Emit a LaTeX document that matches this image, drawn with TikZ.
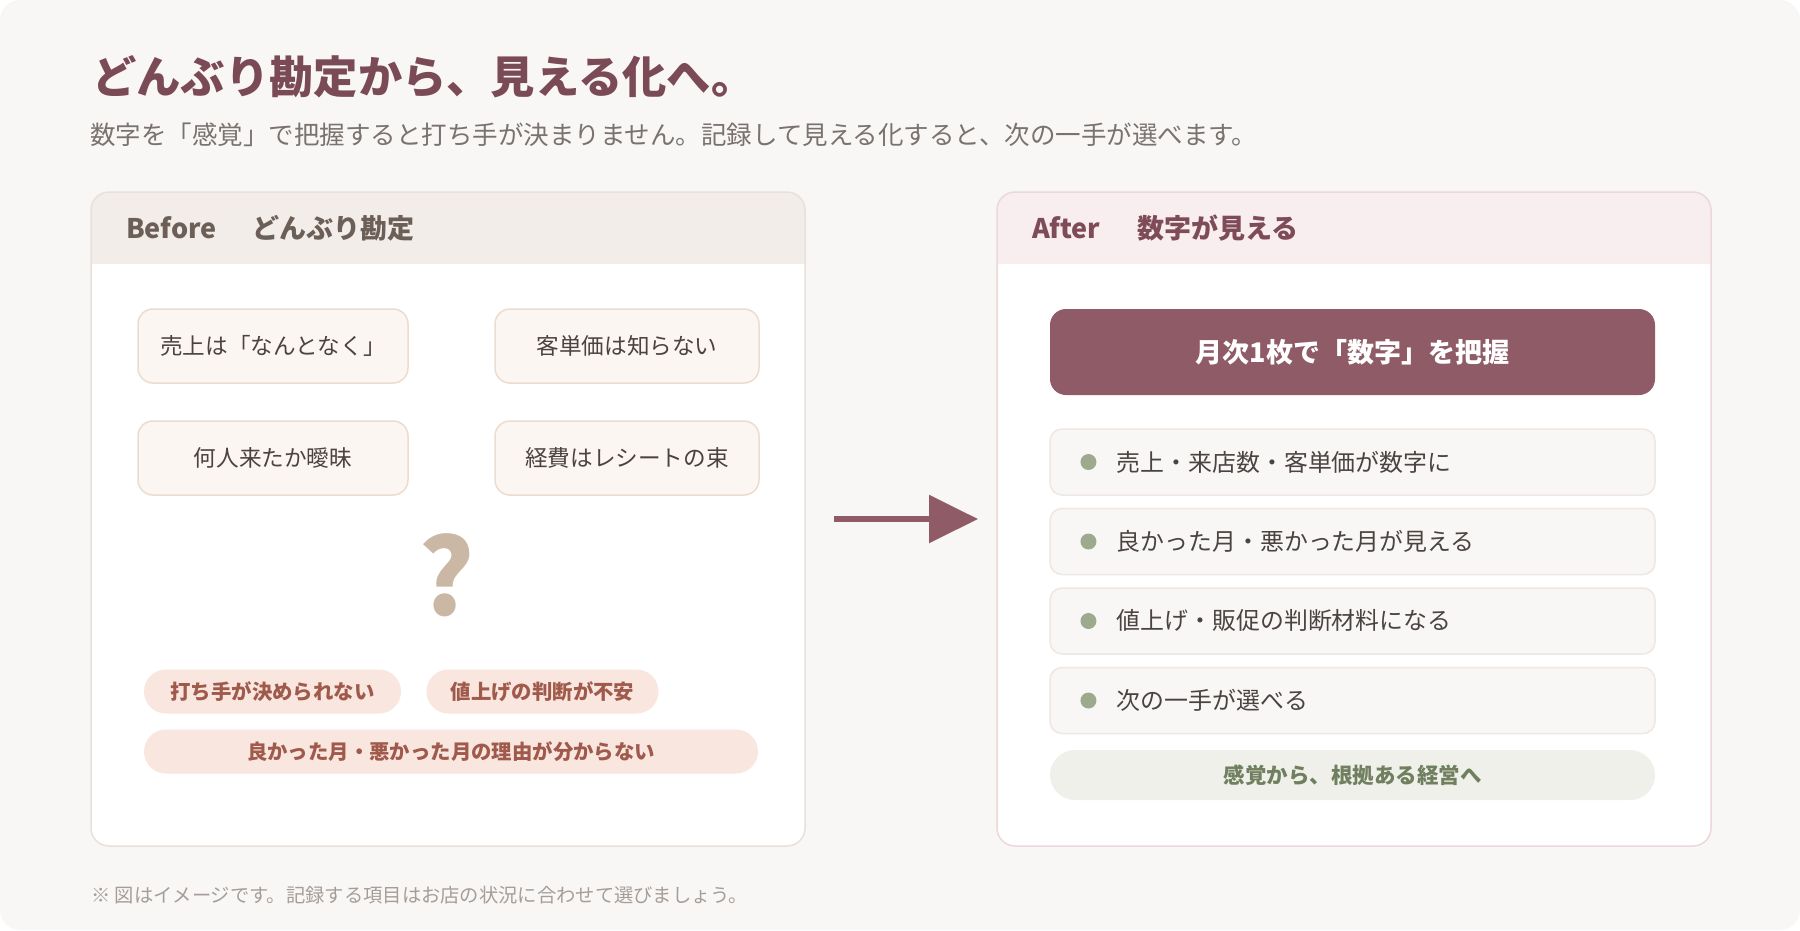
\documentclass[tikz,border=0pt]{standalone}
\usepackage{fontspec}
\setmainfont{Noto Sans CJK JP}
\usepackage{xcolor}
\usetikzlibrary{arrows.meta,positioning}

\definecolor{bgc}{HTML}{F9F7F5}
\definecolor{titlec}{HTML}{7B4A57}
\definecolor{subc}{HTML}{7A726E}
\definecolor{beforehd}{HTML}{F2EDE9}
\definecolor{beforeline}{HTML}{E8E1DB}
\definecolor{beforetxt}{HTML}{6B5F58}
\definecolor{afterhd}{HTML}{F8EDEF}
\definecolor{afterline}{HTML}{ECD7DB}
\definecolor{aftertxt}{HTML}{7E4B58}
\definecolor{cardfill}{HTML}{FBF6F2}
\definecolor{cardline}{HTML}{EBDCCF}
\definecolor{ink}{HTML}{4A4341}
\definecolor{qmark}{HTML}{CBB8A4}
\definecolor{tagfill}{HTML}{F8E6DF}
\definecolor{tagtext}{HTML}{A05A4C}
\definecolor{plum}{HTML}{8E5B67}
\definecolor{itemfill}{HTML}{F9F7F5}
\definecolor{itemline}{HTML}{EEE7E3}
\definecolor{dotgreen}{HTML}{9EAA8E}
\definecolor{sagefill}{HTML}{EEF0E9}
\definecolor{sagetext}{HTML}{6F7F5F}
\definecolor{footc}{HTML}{A59D98}

\begin{document}
\begin{tikzpicture}[
  x=1pt, y=-1pt,
  panel/.style={rectangle, fill=white, outer sep=0pt, inner sep=0pt,
                rounded corners=18pt, minimum width=714pt, minimum height=654pt},
  headtxt/.style={anchor=west, inner sep=0pt,
                  font=\fontsize{27}{31}\selectfont\bfseries},
  card/.style={rectangle, draw=cardline, fill=cardfill, line width=1.5pt,
               rounded corners=15pt, minimum width=270pt, minimum height=74pt,
               text=ink, font=\fontsize{22.6}{26}\selectfont},
  tag/.style={rectangle, fill=tagfill, rounded corners=22pt, minimum height=44pt,
              text=tagtext, font=\fontsize{20.4}{24}\selectfont\bfseries},
  item/.style={rectangle, draw=itemline, fill=itemfill, line width=1.5pt,
               rounded corners=12pt, minimum width=605pt, minimum height=66pt},
  dot/.style={circle, fill=dotgreen, minimum size=16pt, inner sep=0pt},
  itemtxt/.style={anchor=west, inner sep=0pt, text=ink,
                  font=\fontsize{23.9}{28}\selectfont},
  arr/.style={-{Triangle[length=49pt, width=47pt]}, line width=6pt, draw=plum},
]
  \useasboundingbox (0,0) rectangle (1800,930);
  \fill[bgc, rounded corners=20pt] (0,0) rectangle (1800,930);

  % Title
  \node[anchor=west, inner sep=0pt, text=titlec,
        font=\fontsize{44.3}{51}\selectfont\bfseries] (title) at (92,77)
    {どんぶり勘定から、見える化へ。};
  \node[anchor=west, inner sep=0pt, text=subc,
        font=\fontsize{25.5}{30}\selectfont] (lead) at (90,135)
    {数字を「感覚」で把握すると打ち手が決まりません。記録して見える化すると、次の一手が選べます。};

  % Before panel
  \node[panel] (before) at (448,519) {};
  \begin{scope}
    \clip[rounded corners=18pt] (before.north west) rectangle (before.south east);
    \fill[beforehd] (before.north west) rectangle ([yshift=-72pt]before.north east);
  \end{scope}
  \draw[beforeline, line width=1.5pt, rounded corners=18pt]
    (before.north west) rectangle (before.south east);
  \node[headtxt, text=beforetxt] (beforehead) at (126,228) {Before\hspace{36pt}どんぶり勘定};

  \node[card] (sales) at (273,346) {売上は「なんとなく」};
  \node[card, minimum width=264pt] (unit) at (627,346) {客単価は知らない};
  \node[card] (guests) at (273,458) {何人来たか曖昧};
  \node[card, minimum width=264pt] (receipt) at (627,458) {経費はレシートの束};

  \node[text=qmark, inner sep=0pt, font=\fontsize{105}{110}\selectfont\bfseries]
    (what) at (447,575) {?};

  \node[tag, minimum width=257pt] (nomove) at (272.5,691.5) {打ち手が決められない};
  \node[tag, minimum width=232pt] (price) at (542.5,691.5) {値上げの判断が不安};
  \node[tag, minimum width=614pt] (reason) at (451,751.5) {良かった月・悪かった月の理由が分からない};

  % After panel
  \node[panel] (after) at (1354,519) {};
  \begin{scope}
    \clip[rounded corners=18pt] (after.north west) rectangle (after.south east);
    \fill[afterhd] (after.north west) rectangle ([yshift=-72pt]after.north east);
  \end{scope}
  \draw[afterline, line width=1.5pt, rounded corners=18pt]
    (after.north west) rectangle (after.south east);
  \node[headtxt, text=aftertxt] (afterhead) at (1032,228) {After\hspace{37pt}数字が見える};

  \node[rectangle, fill=plum, rounded corners=16pt, minimum width=605pt,
        minimum height=86pt, text=white, font=\fontsize{27}{31}\selectfont\bfseries]
    (grasp) at (1352.5,352) {月次1枚で「数字」を把握};

  \node[item] (i1) at (1352.5,462) {};
  \node[item, below=12pt of i1] (i2) {};
  \node[item, below=12pt of i2] (i3) {};
  \node[item, below=12pt of i3] (i4) {};

  \node[dot, right=31pt of i1.west] (d1) {};
  \node[dot, right=31pt of i2.west] (d2) {};
  \node[dot, right=31pt of i3.west] (d3) {};
  \node[dot, right=31pt of i4.west] (d4) {};

  \node[itemtxt, right=20pt of d1] (t1) {売上・来店数・客単価が数字に};
  \node[itemtxt, right=20pt of d2] (t2) {良かった月・悪かった月が見える};
  \node[itemtxt, right=20pt of d3] (t3) {値上げ・販促の判断材料になる};
  \node[itemtxt, right=20pt of d4] (t4) {次の一手が選べる};

  \node[rectangle, fill=sagefill, rounded corners=25pt, minimum width=605pt,
        minimum height=50pt, text=sagetext, font=\fontsize{21.5}{25}\selectfont\bfseries]
    (goal) at (1352.5,775) {感覚から、根拠ある経営へ};

  % Arrow
  \draw[arr, shorten <=29pt, shorten >=19pt] (before.east) -- (after.west);

  % Note
  \node[anchor=west, inner sep=0pt, text=footc, font=\fontsize{19.3}{23}\selectfont]
    (note) at (91,895) {※ 図はイメージです。記録する項目はお店の状況に合わせて選びましょう。};
\end{tikzpicture}
\end{document}
